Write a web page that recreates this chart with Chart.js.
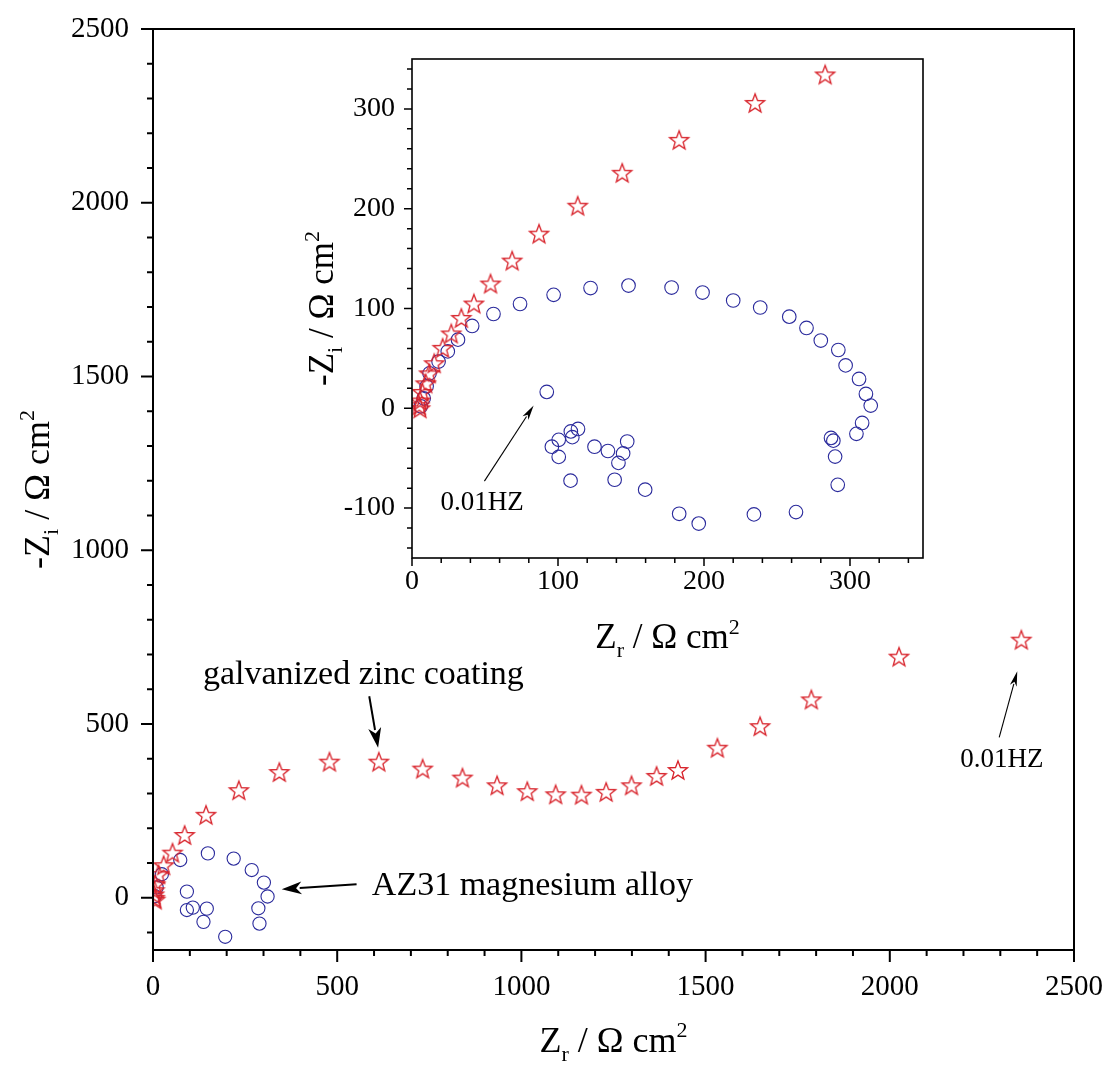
<!DOCTYPE html>
<html><head><meta charset="utf-8">
<script src="https://cdn.jsdelivr.net/npm/chart.js@4.4.0/dist/chart.umd.min.js"></script>
<style>
html,body{margin:0;padding:0;background:#fff;}
#wrap{position:relative;width:1111px;height:1068px;background:#fff;}
canvas{position:absolute;left:0;top:0;}
</style></head><body>
<div id="wrap"><canvas id="main" width="1111" height="1068"></canvas><canvas id="inset" width="1111" height="1068"></canvas></div>
<script>
// ---------------- data ----------------
const mainZincX = [2357,2025,1787,1648,1532,1425,1367,1299,1230,1163,1093,1016,934,840,732,613,479,343,233,144,86,53,29,15,6,4,3,4,6];
const mainZincY = [743,694,571,494,432,368,351,324,305,297,298,307,324,346,372,392,392,362,310,239,181,130,94,68,39,22,10,0,-5];
const mainAZ31X = [149,219,268,301,311,286,289,196,137,146,108,92,92,74,24,10,5];
const mainAZ31Y = [128,113,80,44,4,-30,-74,-112,-69,-31,-28,-35,18,109,68,30,5];

const insetZincX = [283,235,183,144,113.5,87,68.6,53.8,42.4,33.8,26.9,21,15.2,11.8,9.4,7,5.5,5,5.5];
const insetZincY = [334.5,306,269,236,203,175,148,125,105,90.6,75,60.6,45.2,35,25,16.4,7.8,3,0];
const insetAZ31X = [6,8,10,12,18.2,24.5,31.5,41.2,55.8,74,97,122.3,148.3,177.8,199,220,238.5,258.4,270.2,280,292,297,306.2,310.9,314.2,308.3,304.4,287,288.6,289.8,291.6,263,234.2,196.4,183,159.7,138.8,141.4,144.6,147.4,134.2,125,113.7,108.8,109.8,100.5,95.8,100.5,108.6,92.3];
const insetAZ31Y = [2,10,22,35,46.8,57,68.8,82.5,94.5,104.5,113.7,120.5,123,121,116,108,101,91.8,80.5,67.9,58.4,43,29.4,14.4,2.7,-14.7,-25.6,-29.7,-32.4,-48.4,-76.7,-104,-106.3,-115.5,-105.7,-81.5,-71.6,-54.7,-45.2,-33.3,-42.8,-38.5,-20.7,-23.2,-28.9,-31.6,-38.5,-48.7,-72.5,16.4];

const mainXTicks = [0,500,1000,1500,2000,2500];
const mainYTicks = [0,500,1000,1500,2000,2500];
const insetXTicks = [0,100,200,300];
const insetYTicks = [-100,0,100,200,300];

const seriesNames = ['galvanized zinc coating','AZ31 magnesium alloy'];
// ----------------------------------------------------------------

const FONT = '"Liberation Serif", "Times New Roman", serif';
const RED = '#d8232b';
const BLUE = '#2a2a9c';

function starImage(color){
  const s = 24, c = document.createElement('canvas'); c.width = s; c.height = s;
  const g = c.getContext('2d'); const R = 10, r = 4.2, cx = s/2, cy = s/2 + 0.9;
  g.beginPath();
  for (let i = 0; i < 10; i++) {
    const a = -Math.PI/2 + i*Math.PI/5, rr = (i % 2) ? r : R;
    const x = cx + rr*Math.cos(a), y = cy + rr*Math.sin(a);
    i ? g.lineTo(x,y) : g.moveTo(x,y);
  }
  g.closePath(); g.strokeStyle = color; g.lineWidth = 1.3; g.stroke();
  return c;
}
const STAR = starImage(RED);
const pts = (xs, ys) => xs.map((x,i) => ({x, y: ys[i]}));

function drawRich(ctx, parts, size, cx, cy, rotate){
  ctx.save(); ctx.translate(cx, cy); if (rotate) ctx.rotate(-Math.PI/2);
  const sm = Math.round(size*0.62); let w = 0;
  for (const p of parts){ ctx.font = (p.k === 'n' ? size : sm) + 'px ' + FONT; p.w = ctx.measureText(p.t).width; w += p.w; }
  let x = -w/2; ctx.textBaseline = 'alphabetic'; ctx.textAlign = 'left'; ctx.fillStyle = '#000';
  for (const p of parts){
    ctx.font = (p.k === 'n' ? size : sm) + 'px ' + FONT;
    const dy = p.k === 'sub' ? size*0.26 : (p.k === 'sup' ? -size*0.40 : 0);
    ctx.fillText(p.t, x, dy + size*0.33); x += p.w;
  }
  ctx.restore();
}
function arrow(ctx, x1, y1, x2, y2, lw, hl, hw){
  const a = Math.atan2(y2-y1, x2-x1);
  const bx = x2 - hl*Math.cos(a), by = y2 - hl*Math.sin(a);
  ctx.save(); ctx.strokeStyle = '#000'; ctx.fillStyle = '#000'; ctx.lineWidth = lw;
  ctx.beginPath(); ctx.moveTo(x1,y1); ctx.lineTo(bx + 2*Math.cos(a), by + 2*Math.sin(a)); ctx.stroke();
  const nx = -Math.sin(a), ny = Math.cos(a);
  const ix = x2 - hl*0.72*Math.cos(a), iy = y2 - hl*0.72*Math.sin(a);
  ctx.beginPath(); ctx.moveTo(x2,y2);
  ctx.lineTo(bx + nx*hw/2, by + ny*hw/2); ctx.lineTo(ix, iy); ctx.lineTo(bx - nx*hw/2, by - ny*hw/2);
  ctx.closePath(); ctx.fill(); ctx.restore();
}
function range(a, b, s){ const r = []; for (let v = a; v <= b + 1e-9; v += s) r.push(v); return r; }

function framePlugin(o){
  return {
    id: 'frame_' + o.id,
    beforeDraw(chart){
      if (o.bg){ const a = chart.chartArea, c = chart.ctx; c.save(); c.fillStyle = '#fff'; c.fillRect(a.left, a.top, a.right-a.left, a.bottom-a.top); c.restore(); }
    },
    afterDraw(chart){
      const c = chart.ctx, a = chart.chartArea, xs = chart.scales.x, ys = chart.scales.y;
      c.save(); c.strokeStyle = '#000'; c.lineWidth = o.tw; c.beginPath();
      for (const v of o.xt){ const p = xs.getPixelForValue(v);
        const L = (Math.abs(v % o.xMajor) < 1e-6) ? o.major : o.minor; c.moveTo(p, a.bottom); c.lineTo(p, a.bottom + L); }
      for (const v of o.yt){ const p = ys.getPixelForValue(v);
        const L = (Math.abs(v % o.yMajor) < 1e-6) ? o.major : o.minor; c.moveTo(a.left, p); c.lineTo(a.left - L, p); }
      c.stroke();
      c.lineWidth = o.fw; c.strokeRect(a.left, a.top, a.right-a.left, a.bottom-a.top);
      c.restore();
      o.extra && o.extra(chart);
    }
  };
}

function noPad(s){ s.paddingLeft = 0; s.paddingRight = 0; s.paddingTop = 0; s.paddingBottom = 0; }

function baseOptions(o){
  return {
    responsive: false, animation: false, devicePixelRatio: 1,
    layout: { padding: Object.assign({}, o.pad), autoPadding: false },
    plugins: { legend: { display: false }, tooltip: { enabled: false } },
    events: [],
    scales: {
      x: {
        type: 'linear', min: o.xmin, max: o.xmax,
        grid: { display: false, drawTicks: false }, border: { display: false },
        afterFit: s => { s.height = o.xh; noPad(s); },
        afterBuildTicks: s => { s.ticks = o.xticks.map(v => ({ value: v })); },
        ticks: { color: '#000', padding: o.xpad, maxRotation: 0, autoSkip: false, font: { family: FONT, size: o.fs }, callback: v => String(v) }
      },
      y: {
        type: 'linear', min: o.ymin, max: o.ymax,
        grid: { display: false, drawTicks: false }, border: { display: false },
        afterFit: s => { s.width = o.yw; noPad(s); },
        afterBuildTicks: s => { s.ticks = o.yticks.map(v => ({ value: v })); },
        ticks: { color: '#000', padding: o.ypad, autoSkip: false, font: { family: FONT, size: o.fs }, callback: v => String(v) }
      }
    }
  };
}

function fixArea(chart, want){
  for (let i = 0; i < 5; i++){
    const a = chart.chartArea, p = chart.options.layout.padding;
    const dl = want.left - a.left, dt = want.top - a.top, dr = a.right - want.right, db = a.bottom - want.bottom;
    if (Math.abs(dl) + Math.abs(dt) + Math.abs(dr) + Math.abs(db) < 0.5) break;
    p.left += dl; p.top += dt; p.right += dr; p.bottom += db;
    chart.update();
  }
}

// ---------------- main chart ----------------
const mainOpts = baseOptions({ pad: { left: 0, top: 29, right: 37, bottom: 0 }, xmin: 0, xmax: 2500, ymin: -150, ymax: 2500,
  xh: 118, yw: 153, xticks: mainXTicks, yticks: mainYTicks, xpad: 20, ypad: 24, fs: 29 });

const mainChart = new Chart(document.getElementById('main'), {
  type: 'scatter',
  data: { datasets: [
    { label: seriesNames[0], data: pts(mainZincX, mainZincY), pointStyle: STAR, order: 0 },
    { label: seriesNames[1], data: pts(mainAZ31X, mainAZ31Y), pointStyle: 'circle', pointRadius: 6.6, borderColor: BLUE, borderWidth: 1.1, backgroundColor: 'rgba(0,0,0,0)', order: 1 }
  ]},
  options: mainOpts,
  plugins: [framePlugin({ id: 'main', tw: 2, fw: 2, major: 12, minor: 6, xMajor: 500, yMajor: 500,
    xt: range(0, 2500, 100), yt: range(-100, 2500, 100),
    extra(chart){
      const c = chart.ctx, X = v => chart.scales.x.getPixelForValue(v), Y = v => chart.scales.y.getPixelForValue(v);
      const a = chart.chartArea;
      drawRich(c, [{t:'Z',k:'n'},{t:'r',k:'sub'},{t:' / \u03A9 cm',k:'n'},{t:'2',k:'sup'}], 36, (a.left+a.right)/2, 1040, false);
      drawRich(c, [{t:'-Z',k:'n'},{t:'i',k:'sub'},{t:' / \u03A9 cm',k:'n'},{t:'2',k:'sup'}], 36, 37, (a.top+a.bottom)/2, true);
      c.save(); c.fillStyle = '#000';
      c.font = '34px ' + FONT; c.textAlign = 'center'; c.textBaseline = 'alphabetic';
      c.fillText(seriesNames[0], X(571), Y(614));
      c.textAlign = 'left'; c.textBaseline = 'middle';
      c.fillText(seriesNames[1], X(594), Y(34.5));
      c.font = '27px ' + FONT; c.textAlign = 'center';
      c.fillText('0.01HZ', X(2304), Y(398));
      c.restore();
      arrow(c, X(587), Y(580), X(611), Y(432), 2, 20, 13);
      arrow(c, X(552.6), Y(39), X(349.4), Y(25), 2, 20, 13);
      arrow(c, X(2297), Y(462), X(2346), Y(652), 1.1, 15, 7);
    }
  })]
});
fixArea(mainChart, { left: 153, top: 29, right: 1074, bottom: 950 });

// ---------------- inset chart ----------------
const insetOpts = baseOptions({ pad: { left: 292, top: 59, right: 188, bottom: 410 }, xmin: 0, xmax: 350, ymin: -150, ymax: 350,
  xh: 100, yw: 120, xticks: insetXTicks, yticks: insetYTicks, xpad: 7, ypad: 17, fs: 28 });

const insetChart = new Chart(document.getElementById('inset'), {
  type: 'scatter',
  data: { datasets: [
    { label: seriesNames[0], data: pts(insetZincX, insetZincY), pointStyle: STAR, order: 0 },
    { label: seriesNames[1], data: pts(insetAZ31X, insetAZ31Y), pointStyle: 'circle', pointRadius: 6.8, borderColor: BLUE, borderWidth: 1.1, backgroundColor: 'rgba(0,0,0,0)', order: 1 }
  ]},
  options: insetOpts,
  plugins: [framePlugin({ id: 'inset', bg: true, tw: 1.5, fw: 1.6, major: 8, minor: 5, xMajor: 100, yMajor: 100,
    xt: range(0, 340, 20), yt: range(-140, 340, 20),
    extra(chart){
      const c = chart.ctx, X = v => chart.scales.x.getPixelForValue(v), Y = v => chart.scales.y.getPixelForValue(v);
      const a = chart.chartArea;
      drawRich(c, [{t:'Z',k:'n'},{t:'r',k:'sub'},{t:' / \u03A9 cm',k:'n'},{t:'2',k:'sup'}], 35, (a.left+a.right)/2, 636, false);
      drawRich(c, [{t:'-Z',k:'n'},{t:'i',k:'sub'},{t:' / \u03A9 cm',k:'n'},{t:'2',k:'sup'}], 35, 321, (a.top+a.bottom)/2, true);
      c.save(); c.fillStyle = '#000'; c.font = '27px ' + FONT; c.textAlign = 'center'; c.textBaseline = 'middle';
      c.fillText('0.01HZ', X(48), Y(-95));
      c.restore();
      arrow(c, X(49.6), Y(-73), X(83.3), Y(2.7), 1.1, 15, 7);
    }
  })]
});
fixArea(insetChart, { left: 412, top: 59, right: 923, bottom: 558 });
</script>
</body></html>
